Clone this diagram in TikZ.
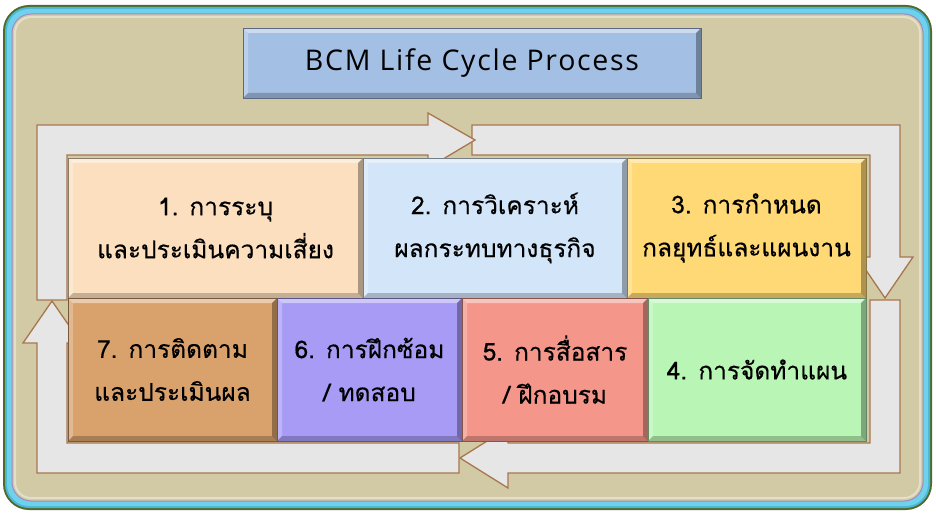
\documentclass[tikz,border=0pt]{standalone}
\usepackage{fontspec}
\newfontfamily\thaifont[Script=Thai,FakeBold=0.4]{Loma}
\newfontfamily\titlefont[LetterSpace=6]{Open Sans}
\definecolor{framegreen}{HTML}{4F6B2A}
\definecolor{frameteal}{HTML}{4FB6D2}
\definecolor{framecyan}{HTML}{6ED2EE}
\definecolor{framepurple}{HTML}{9C8CC0}
\definecolor{beige}{HTML}{D1CAA5}
\definecolor{titleblue}{HTML}{A3BFE3}
\definecolor{arrowfill}{HTML}{E6E6E6}
\definecolor{arrowline}{HTML}{A8764E}
\definecolor{cpeach}{HTML}{FCDFBF}
\definecolor{cblue}{HTML}{D3E5F8}
\definecolor{cgold}{HTML}{FFD975}
\definecolor{cbrown}{HTML}{D9A16B}
\definecolor{cpurple}{HTML}{A79BF5}
\definecolor{csalmon}{HTML}{F4978A}
\definecolor{cgreen}{HTML}{B9F5B4}
\tikzset{
  bevel/.style={path picture={
    \fill[white,opacity=.45] (path picture bounding box.north west) -- (path picture bounding box.north east)
      -- ([xshift=-5pt,yshift=-5pt]path picture bounding box.north east) -- ([xshift=5pt,yshift=-5pt]path picture bounding box.north west) -- cycle;
    \fill[white,opacity=.25] (path picture bounding box.north west) -- ([xshift=5pt,yshift=-5pt]path picture bounding box.north west)
      -- ([xshift=5pt,yshift=5pt]path picture bounding box.south west) -- (path picture bounding box.south west) -- cycle;
    \fill[black,opacity=.22] (path picture bounding box.south west) -- (path picture bounding box.south east)
      -- ([xshift=-5pt,yshift=5pt]path picture bounding box.south east) -- ([xshift=5pt,yshift=5pt]path picture bounding box.south west) -- cycle;
    \fill[black,opacity=.32] (path picture bounding box.north east) -- ([xshift=-5pt,yshift=-5pt]path picture bounding box.north east)
      -- ([xshift=-5pt,yshift=5pt]path picture bounding box.south east) -- (path picture bounding box.south east) -- cycle;
  }},
  stepbox/.style={bevel, fill=#1, draw=#1!55!black, line width=0.8pt, inner sep=0pt,
    align=center, font=\thaifont\fontsize{24.5}{43}\selectfont, text=black},
  bandarrow/.style={fill=arrowfill, draw=arrowline, line width=1.3pt, line join=miter},
}
\begin{document}
\begin{tikzpicture}[x=1pt,y=-1pt]
\useasboundingbox (0,0) rectangle (936,513);
% frame
\fill[framegreen] (3,5) [rounded corners=26pt] rectangle (932,510);
\fill[frameteal] (5,7) [rounded corners=24pt] rectangle (930,508);
\fill[framecyan] (7,9) [rounded corners=22pt] rectangle (928,506);
\filldraw[fill=beige, draw=framepurple, line width=1pt] (12,14) [rounded corners=19pt] rectangle (923,501);
\draw[white, opacity=.4, line width=2pt] (15,17) [rounded corners=16pt] rectangle (920,498);
% title
\node[bevel, fill=titleblue, draw=titleblue!55!black, line width=0.8pt, minimum width=458pt, minimum height=70pt,
  font=\titlefont\fontsize{28.5}{32}\selectfont] (title) at (472,63) {BCM Life Cycle Process};
% arrows
\draw[bandarrow] (472,125) -- (900,125) -- (900,257) -- (913,257) -- (885,298) -- (857,257) -- (870,257) -- (870,155) -- (472,155) -- cycle;
\draw[bandarrow] (900,300) -- (900,473) -- (508,473) -- (508,488) -- (460,458) -- (508,428) -- (508,443) -- (870,443) -- (870,300) -- cycle;
\draw[bandarrow] (459,443) -- (459,473) -- (37,473) -- (37,343) -- (23,343) -- (52,301) -- (81,343) -- (67,343) -- (67,443) -- cycle;
\draw[bandarrow] (37,300) -- (37,125) -- (428,125) -- (428,113) -- (475,140) -- (428,168) -- (428,155) -- (67,155) -- (67,300) -- cycle;
% boxes
\node[stepbox=cpeach, minimum width=295pt, minimum height=140pt] (s1) at (215.5,228) {1. การระบุ\\และประเมินความเสี่ยง};
\node[stepbox=cblue, minimum width=264pt, minimum height=140pt] (s2) at (495,228) {2. การวิเคราะห์\\ผลกระทบทางธุรกิจ};
\node[stepbox=cgold, minimum width=239pt, minimum height=140pt] (s3) at (746.5,228) {3. การกำหนด\\กลยุทธ์และแผนงาน};
\node[stepbox=cbrown, minimum width=209pt, minimum height=143pt] (s7) at (172.5,369.5) {7. การติดตาม\\และประเมินผล};
\node[stepbox=cpurple, minimum width=185pt, minimum height=143pt] (s6) at (369.5,369.5) {6. การฝึกซ้อม\\/ ทดสอบ};
\node[stepbox=csalmon, minimum width=186pt, minimum height=143pt] (s5) at (555,369.5) {5. การสื่อสาร\\/ ฝึกอบรม};
\node[stepbox=cgreen, minimum width=218pt, minimum height=143pt] (s4) at (757,369.5) {4. การจัดทำแผน};
\end{tikzpicture}
\end{document}
